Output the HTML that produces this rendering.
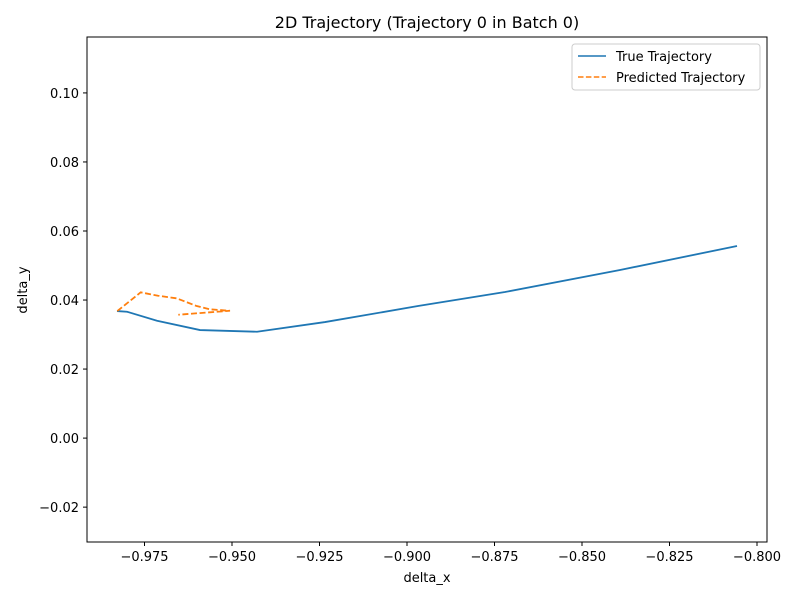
<!DOCTYPE html>
<html><head><meta charset="utf-8"><style>
body{margin:0;background:#fff;}
svg text{font-family:"DejaVu Sans","Liberation Sans",sans-serif;}
</style></head><body>
<svg id="chart" width="800" height="600" xmlns="http://www.w3.org/2000/svg">
<rect width="800" height="600" fill="#fff"/>
<text x="427" y="28" font-size="16" text-anchor="middle">2D Trajectory (Trajectory 0 in Batch 0)</text>
<g id="axes"></g>
<g id="plot"></g>
<rect x="87" y="37" width="680" height="505" fill="none" stroke="#000" stroke-width="1"/>
<text x="427" y="582" font-size="13" text-anchor="middle">delta_x</text>
<text transform="translate(27,290) rotate(-90)" font-size="13" text-anchor="middle">delta_y</text>
<g>
<rect x="572" y="44" width="188" height="46" rx="3" fill="#fff" stroke="#ccc"/>
<g><line x1="578" y1="56" x2="606" y2="56" stroke="#1f77b4" stroke-width="1.5"/><text x="616" y="61" font-size="13">True Trajectory</text></g>
<g><line x1="578" y1="77" x2="606" y2="77" stroke="#ff7f0e" stroke-width="1.5" stroke-dasharray="5.5,2.4"/><text x="616" y="82" font-size="13">Predicted Trajectory</text></g>
</g>
</svg>
<script>
const trueX=[-0.98286,-0.98,-0.97143,-0.95914,-0.94286,-0.92343,-0.89686,-0.872,-0.83914,-0.80571];
const trueY=[0.0368,0.03661,0.0340,0.0313,0.03081,0.03362,0.03826,0.04232,0.0487,0.05565];
const predX=[-0.98277,-0.97609,-0.97114,-0.9658,-0.96009,-0.95629,-0.95057,-0.96534];
const predY=[0.03681,0.04223,0.04125,0.04049,0.03826,0.0373,0.0369,0.03574];
const xTicks=[-0.975,-0.950,-0.925,-0.900,-0.875,-0.850,-0.825,-0.800];
const yTicks=[-0.02,0.00,0.02,0.04,0.06,0.08,0.10];
const NS="http://www.w3.org/2000/svg";
const L=87,R=767,T=37,B=542,xmin=-0.99143,xmax=-0.79714,ymin=-0.0301,ymax=0.1162;
const sx=v=>L+(v-xmin)/(xmax-xmin)*(R-L);
const sy=v=>B-(v-ymin)/(ymax-ymin)*(B-T);
const ax=document.getElementById('axes'),pl=document.getElementById('plot');
function mk(t,a,p){const e=document.createElementNS(NS,t);for(const k in a)e.setAttribute(k,a[k]);p.appendChild(e);return e;}
const fmt=v=>(v<0?'\u2212':'')+Math.abs(v).toFixed(3);
xTicks.forEach(v=>{const x=sx(v);
const t=mk('line',{x1:x,x2:x,y1:B,y2:B+4,stroke:'#000'},ax);


const l=mk('text',{x:x,y:B+19,'font-size':13,'text-anchor':'middle'},ax);l.textContent=fmt(v);

});
yTicks.forEach(v=>{const y=sy(v);
const t=mk('line',{x1:L-4,x2:L,y1:y,y2:y,stroke:'#000'},ax);


const l=mk('text',{x:L-8,y:y+5,'font-size':13,'text-anchor':'end'},ax);l.textContent=(v<0?'\u2212':'')+Math.abs(v).toFixed(2);

});
const tp=mk('polyline',{points:trueX.map((x,i)=>sx(x)+','+sy(trueY[i])).join(' '),fill:'none',stroke:'#1f77b4','stroke-width':1.8},pl);


const pp=mk('polyline',{points:predX.map((x,i)=>sx(x)+','+sy(predY[i])).join(' '),fill:'none',stroke:'#ff7f0e','stroke-width':1.8,'stroke-dasharray':'6,2.6'},pl);


</script>
</body></html>
